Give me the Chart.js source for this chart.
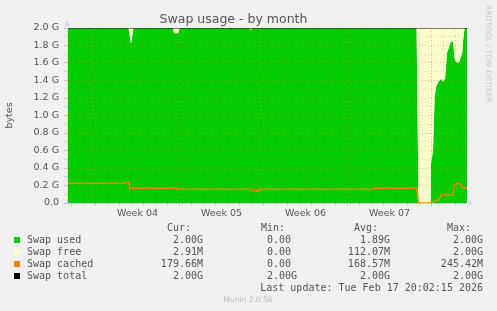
<!DOCTYPE html>
<html>
<head>
<meta charset="utf-8">
<script src="https://cdn.jsdelivr.net/npm/chart.js@4/dist/chart.umd.min.js"></script>
<style>
  html, body { margin: 0; padding: 0; background: #f0f0f0; }
  #wrap { width: 497px; height: 311px; }
</style>
</head>
<body>
<div id="wrap"><canvas id="swapChart" width="497" height="311"></canvas></div>
<script>
// time in days from the left edge of the graph, values in GiB
const usedDays = [0, 5.13, 5.33, 5.54, 8.83, 8.92, 9.25, 9.38, 15.25, 15.33, 15.42, 29.13, 29.29, 30.25,
  30.33, 30.5, 30.63, 30.75, 30.92, 31.17, 31.33, 31.5, 31.67, 31.83, 32.0, 32.17,
  32.29, 32.42, 32.67, 32.79, 32.92, 33.0, 33.13, 33.33];
const usedVals = [2.0, 2.0, 1.82, 2.0, 2.0, 1.94, 1.94, 2.0, 2.0, 1.98, 2.0, 2.0, 0, 0,
  0.45, 0.6, 1.2, 1.33, 1.38, 1.42, 1.39, 1.42, 1.72, 1.78, 1.85, 1.84,
  1.66, 1.61, 1.61, 1.66, 1.70, 1.85, 2.0, 2.0];

const cachedDays = [0, 4.83, 4.92, 5.13, 5.25, 9.17, 9.25, 15.42, 15.5, 16.0, 16.08, 25.42, 25.5,
  29.13, 29.29, 30.25, 30.42, 30.75, 31.0, 31.25, 31.42, 31.67, 32.13, 32.25, 32.5, 32.75,
  33.0, 33.25, 33.33];
const cachedVals = [0.225, 0.225, 0.237, 0.237, 0.17, 0.17, 0.157, 0.157, 0.14, 0.14, 0.157, 0.157, 0.17,
  0.17, 0, 0, 0.01, 0.02, 0.05, 0.1, 0.1, 0.09, 0.09, 0.195, 0.225, 0.217,
  0.168, 0.175, 0.175];

const totalDays = [0, 33.33];
const totalVals = [2.0, 2.0];

const weekLabels = ['Week 04', 'Week 05', 'Week 06', 'Week 07'];
const firstWeekStart = 2.375;
const xMax = 33.33;
const yMax = 2.0;

// legend table: name, colour, cur, min, avg, max
const legendRows = [
  ['Swap used', '#00cc00', '2.00G', '0.00 ', '1.89G', '2.00G'],
  ['Swap free', '#ffffcc', '2.91M', '0.00 ', '112.07M', '2.00G'],
  ['Swap cached', '#ff8000', '179.66M', '0.00 ', '168.57M', '245.42M'],
  ['Swap total', '#000000', '2.00G', '2.00G', '2.00G', '2.00G']
];
const lastUpdate = 'Last update: Tue Feb 17 20:02:15 2026';

const pts = (xs, ys) => xs.map((x, i) => ({ x: x, y: ys[i] }));

const gridGray = 'rgba(130,130,130,0.3)';
const gridRed = 'rgba(222,79,79,0.38)';
const textCol = '#555';

function buildXTicks() {
  const ticks = [];
  for (let t = firstWeekStart - 2; t < xMax; t += 1) {
    const w = Math.round(t - firstWeekStart);
    ticks.push({ value: t, wk: w % 7 === 0 });
  }
  weekLabels.forEach((w, i) => {
    ticks.push({ value: firstWeekStart + 7 * i + 3.5, lab: w });
  });
  ticks.sort((a, b) => a.value - b.value);
  return ticks;
}

const muninDecor = {
  id: 'muninDecor',
  afterDraw(chart) {
    const ctx = chart.ctx;
    const a = chart.chartArea;
    ctx.save();

    // axis arrows
    ctx.fillStyle = '#cfd6f8';
    ctx.beginPath();
    ctx.moveTo(a.left - 3, a.top - 2);
    ctx.lineTo(a.left + 3, a.top - 2);
    ctx.lineTo(a.left, a.top - 7);
    ctx.fill();
    ctx.beginPath();
    ctx.moveTo(a.right + 1, a.bottom - 3);
    ctx.lineTo(a.right + 1, a.bottom + 3);
    ctx.lineTo(a.right + 6, a.bottom);
    ctx.fill();

    // rrdtool credit
    ctx.save();
    ctx.translate(485, 5);
    ctx.rotate(Math.PI / 2);
    ctx.fillStyle = '#c8c8c8';
    ctx.font = '7.6px "DejaVu Sans"';
    ctx.textBaseline = 'middle';
    ctx.textAlign = 'left';
    ctx.fillText('RRDTOOL / TOBI OETIKER', 0, -3);
    ctx.restore();

    // legend table
    ctx.font = '10px "DejaVu Sans Mono"';
    ctx.fillStyle = textCol;
    ctx.textBaseline = 'middle';
    const colEnds = [203, 297, 390, 483];
    const heads = ['Cur:  ', 'Min:  ', 'Avg:  ', 'Max:  '];
    ctx.textAlign = 'right';
    heads.forEach((h, i) => ctx.fillText(h, colEnds[i], 228.5));
    legendRows.forEach((r, k) => {
      const y = 240 + k * 12;
      ctx.fillStyle = r[1];
      ctx.fillRect(14, y - 3, 6, 6);
      ctx.fillStyle = textCol;
      ctx.textAlign = 'left';
      ctx.fillText(r[0], 27, y);
      ctx.textAlign = 'right';
      for (let i = 0; i < 4; i++) ctx.fillText(r[2 + i], colEnds[i], y);
    });
    ctx.fillText(lastUpdate, 483, 288);

    ctx.font = '7.5px "DejaVu Sans"';
    ctx.fillStyle = '#bbbbbb';
    ctx.textAlign = 'center';
    ctx.fillText('Munin 2.0.56', 248, 300.5);
    ctx.restore();
  }
};

const ctx = document.getElementById('swapChart').getContext('2d');
const chart = new Chart(ctx, {
  type: 'line',
  data: {
    datasets: [
      {
        label: 'Swap used',
        data: pts(usedDays, usedVals),
        fill: 'origin',
        backgroundColor: '#00cc00',
        borderColor: 'rgba(0,0,0,0)',
        borderWidth: 0,
        pointRadius: 0,
        tension: 0,
        order: 2
      },
      {
        label: 'Swap total',
        data: pts(totalDays, totalVals),
        fill: 0,
        backgroundColor: '#ffffcc',
        borderColor: '#000000',
        borderWidth: 1,
        pointRadius: 0,
        order: 1
      },
      {
        label: 'Swap cached',
        data: pts(cachedDays, cachedVals),
        fill: false,
        borderColor: '#ff8000',
        borderWidth: 1.5,
        pointRadius: 0,
        tension: 0,
        order: 0
      }
    ]
  },
  options: {
    responsive: false,
    animation: false,
    events: [],
    layout: { padding: { left: 0, right: 30, top: 0, bottom: 88 } },
    plugins: {
      legend: { display: false },
      tooltip: { enabled: false },
      title: {
        display: true,
        text: 'Swap usage - by month',
        color: textCol,
        font: { family: 'DejaVu Sans', size: 12.5, weight: 'normal' },
        padding: { top: 12, bottom: 1 }
      }
    },
    scales: {
      x: {
        type: 'linear',
        min: 0,
        max: xMax,
        afterFit(s) { s.height = 20; },
        afterBuildTicks(s) { s.ticks = buildXTicks(); },
        ticks: {
          autoSkip: false,
          maxRotation: 0,
          padding: 2,
          color: textCol,
          font: { family: 'DejaVu Sans', size: 9.5 },
          callback: (v, i, t) => (t[i] && t[i].lab) || ''
        },
        grid: {
          z: 1,
          tickLength: 3,
          color: c => (c.tick && c.tick.lab) ? 'rgba(0,0,0,0)' : (c.tick && c.tick.wk ? gridRed : gridGray),
          tickColor: c => (c.tick && c.tick.lab) ? 'rgba(0,0,0,0)' : (c.tick && c.tick.wk ? gridRed : gridGray)
        },
        border: { display: true, z: 1, color: '#cfd6f8', dash: [1, 2] }
      },
      y: {
        min: 0,
        max: yMax,
        afterFit(s) { s.width = 67; },
        ticks: {
          stepSize: 0.1,
          autoSkip: false,
          padding: 5,
          color: textCol,
          font: { family: 'DejaVu Sans', size: 9.5 },
          callback: v => {
            const k = Math.round(v * 10);
            if (k % 2) return '';
            return k === 0 ? '0.0' : (k / 10).toFixed(1) + ' G';
          }
        },
        grid: {
          z: 1,
          tickLength: 3,
          color: c => (Math.round(c.tick.value * 10) % 2 ? gridGray : gridRed),
          tickColor: c => (Math.round(c.tick.value * 10) % 2 ? gridGray : gridRed)
        },
        border: { display: true, z: 1, color: '#cfd6f8', dash: [1, 2] },
        title: {
          display: true,
          text: 'bytes',
          color: textCol,
          font: { family: 'DejaVu Sans', size: 9.5 },
          padding: { top: 4, bottom: 0 }
        }
      }
    }
  },
  plugins: [muninDecor]
});
</script>
</body>
</html>
